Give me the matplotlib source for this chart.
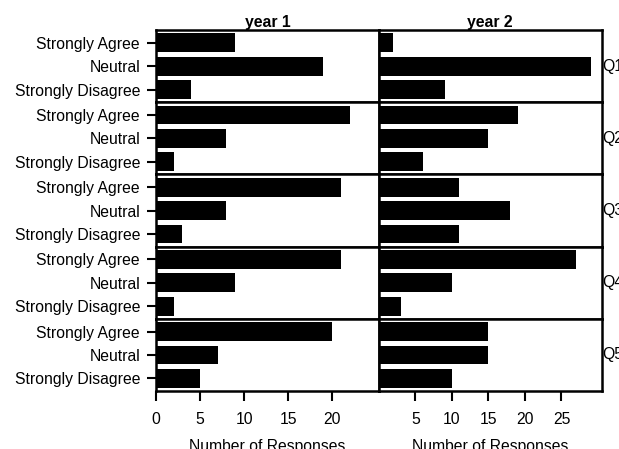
import numpy as np
import matplotlib.pyplot as plt

plt.rcParams['font.family'] = ['Liberation Sans', 'DejaVu Sans']

CATEGORIES = ['Strongly Agree', 'Neutral', 'Strongly Disagree']
QUESTIONS = ['Q1', 'Q2', 'Q3', 'Q4', 'Q5']
YEARS = ['year 1', 'year 2']

# responses per question, order: Strongly Agree, Neutral, Strongly Disagree
YEAR1 = [
    [9, 19, 4],
    [22, 8, 2],
    [21, 8, 3],
    [21, 9, 2],
    [20, 7, 5],
]
YEAR2 = [
    [2, 29, 9],
    [19, 15, 6],
    [11, 18, 11],
    [27, 10, 3],
    [15, 15, 10],
]
XTICKS = [[0, 5, 10, 15, 20], [5, 10, 15, 20, 25]]
XLIMS = [25.3, 30.5]
FS = 11.3

fig = plt.figure(figsize=(6.19, 4.49), dpi=100)
gs = fig.add_gridspec(5, 2, left=0.252, right=0.972, top=0.933, bottom=0.129,
                      wspace=0, hspace=0)

data = [YEAR1, YEAR2]
pos = np.arange(len(CATEGORIES))
for col in range(2):
    for row in range(5):
        ax = fig.add_subplot(gs[row, col])
        ax.barh(pos, data[col][row], height=0.8, color='black')
        ax.set_xlim(0, XLIMS[col])
        ax.invert_yaxis()
        for sp in ax.spines.values():
            sp.set_linewidth(1.8)
        ax.set_yticks(pos)
        if col == 0:
            ax.set_yticklabels(CATEGORIES, fontsize=FS)
            ax.tick_params(axis='y', length=6.5, width=1.5, pad=5)
        else:
            ax.set_yticklabels([])
            ax.tick_params(axis='y', length=0)
            ax.text(1.004, 0.5, QUESTIONS[row], transform=ax.transAxes,
                    ha='left', va='center', fontsize=FS)
        if row == 0:
            ax.set_title(YEARS[col], fontsize=FS, fontweight='bold', pad=2)
        if row == 4:
            ax.set_xticks(XTICKS[col])
            ax.tick_params(axis='x', length=7, width=1.5, labelsize=FS, pad=8)
            ax.set_xlabel('Number of Responses', fontsize=FS, labelpad=9)
        else:
            ax.set_xticks([])

fig.savefig('out.png', dpi=100)
